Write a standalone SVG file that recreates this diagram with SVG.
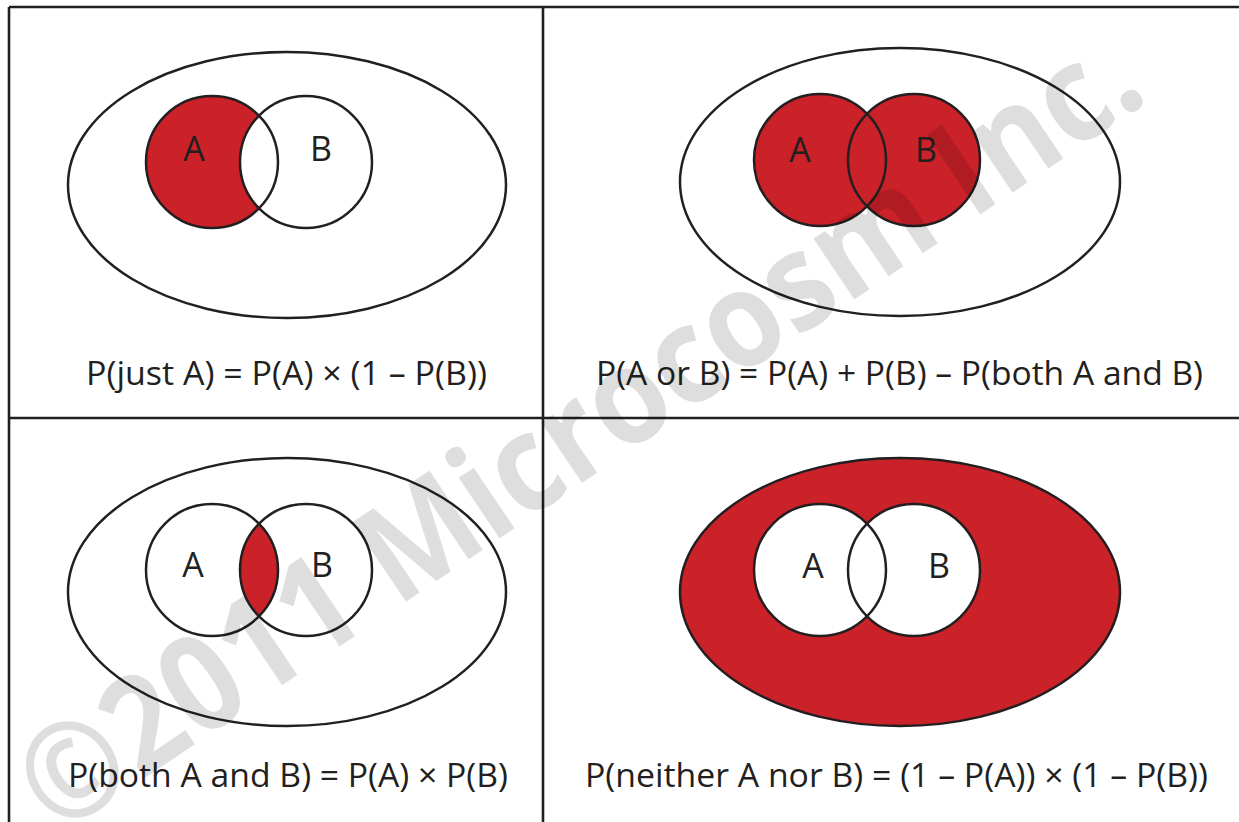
<svg xmlns="http://www.w3.org/2000/svg" width="1239" height="822" viewBox="0 0 1239 822">
<defs>
<style>
.ln{stroke:#231f20;stroke-width:2.5;fill:none}
.grid{stroke:#231f20;stroke-width:2.6;fill:none}
.red{fill:#cb2128}
.wh{fill:#ffffff}
.lbl{font-family:"Open Sans","Liberation Sans",sans-serif;font-size:34px;fill:#231f20;text-anchor:middle}
.f{font-family:"Open Sans","Liberation Sans",sans-serif;font-size:33px;fill:#231f20}
.wm{font-family:"Open Sans","Liberation Sans",sans-serif;font-weight:bold;font-size:134px;fill:#000;fill-opacity:0.13;text-anchor:middle}
</style>
<clipPath id="clipA3"><circle cx="212" cy="570" r="66"/></clipPath>
</defs>
<rect width="1239" height="822" fill="#fff"/>
<g id="grid">
<path class="grid" d="M9,7 H1239 M9,7 V822 M543,7 V822 M9,418 H1239"/>
</g>
<g id="panel-just-a">
<ellipse class="ln" cx="287" cy="185" rx="219" ry="133"/>
<circle class="red" cx="212" cy="162" r="66"/>
<circle class="wh" cx="306" cy="162" r="66"/>
<circle class="ln" cx="212" cy="162" r="66"/>
<circle class="ln" cx="306" cy="162" r="66"/>
<text class="lbl" x="194" y="161">A</text>
<text class="lbl" x="321" y="161">B</text>
<text class="f" x="86" y="385" textLength="401" lengthAdjust="spacingAndGlyphs">P(just A) = P(A) × (1 – P(B))</text>
</g>
<g id="panel-a-or-b">
<ellipse class="ln" cx="900" cy="182" rx="220" ry="134"/>
<circle class="red" cx="820" cy="160" r="66"/>
<circle class="red" cx="914" cy="160" r="66"/>
<circle class="ln" cx="820" cy="160" r="66"/>
<circle class="ln" cx="914" cy="160" r="66"/>
<text class="lbl" x="800" y="162">A</text>
<text class="lbl" x="926" y="162">B</text>
<text class="f" x="596" y="385" textLength="607" lengthAdjust="spacingAndGlyphs">P(A or B) = P(A) + P(B) – P(both A and B)</text>
</g>
<g id="panel-both">
<ellipse class="ln" cx="287" cy="592" rx="219" ry="134"/>
<circle class="red" cx="306" cy="570" r="66" clip-path="url(#clipA3)"/>
<circle class="ln" cx="212" cy="570" r="66"/>
<circle class="ln" cx="306" cy="570" r="66"/>
<text class="lbl" x="193" y="577">A</text>
<text class="lbl" x="322" y="577">B</text>
<text class="f" x="68" y="787" textLength="440" lengthAdjust="spacingAndGlyphs">P(both A and B) = P(A) × P(B)</text>
</g>
<g id="panel-neither">
<ellipse class="red" cx="900" cy="592" rx="220" ry="134"/>
<ellipse class="ln" cx="900" cy="592" rx="220" ry="134"/>
<circle class="wh" cx="820" cy="570" r="66"/>
<circle class="wh" cx="914" cy="570" r="66"/>
<circle class="ln" cx="820" cy="570" r="66"/>
<circle class="ln" cx="914" cy="570" r="66"/>
<text class="lbl" x="813" y="578">A</text>
<text class="lbl" x="939" y="578">B</text>
<text class="f" x="585" y="787" textLength="623" lengthAdjust="spacingAndGlyphs">P(neither A nor B) = (1 – P(A)) × (1 – P(B))</text>
</g>
<g id="watermark">
<text class="wm" x="0" y="0" dominant-baseline="central" transform="translate(575,425) rotate(-34)" textLength="1320" lengthAdjust="spacingAndGlyphs">©2011 Microcosm Inc.</text>
</g>
</svg>
